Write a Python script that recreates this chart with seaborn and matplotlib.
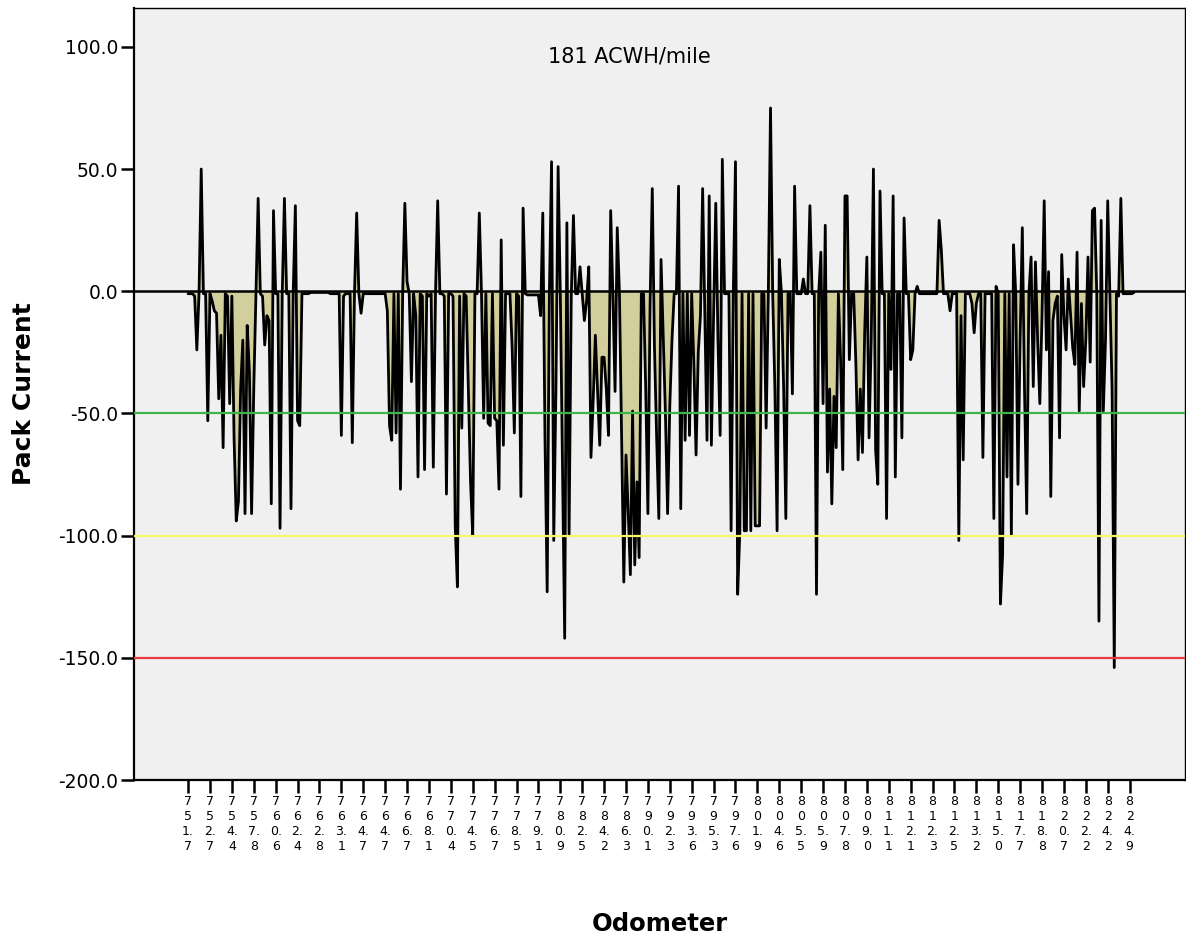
import numpy as np
import pandas as pd
import matplotlib
matplotlib.use("Agg")
import matplotlib.pyplot as plt
import seaborn as sns

# ---- data -------------------------------------------------------------
odometer_labels = [
    "751.7", "752.7", "754.4", "757.8", "760.6", "762.4", "762.8", "763.1",
    "764.7", "764.7", "766.7", "768.1", "770.4", "774.5", "776.7", "778.5",
    "779.1", "780.9", "782.5", "784.2", "786.3", "790.1", "792.3", "793.6",
    "795.3", "797.6", "801.9", "804.6", "805.5", "805.9", "807.8", "809.0",
    "811.1", "812.1", "812.3", "812.5", "813.2", "815.0", "817.7", "818.8",
    "820.7", "822.2", "824.2", "824.9",
]

pack_current = [
    -1, -1, -1, -2, -24, -1, 50, -1, -1, -53,
    -1, -4, -8, -9, -44, -18, -64, -1, -2, -46,
    -2, -60, -94, -86, -40, -20, -91, -14, -33, -91,
    -40, -1, 38, -1, -2, -22, -10, -12, -87, 33,
    -1, -1, -97, -1, 38, -1, -1, -89, -1, 35,
    -53, -55, -1, -1, -1, -1, -0.5, -0.5, -0.5, -0.5,
    -0.5, -0.5, -0.5, -0.5, -0.5, -1, -1, -1, -1, -1,
    -59, -2, -1, -1, -1, -62, -1, 32, -1, -9,
    -1, -1, -1, -1, -1, -1, -1, -1, -1, -1,
    -1, -8, -55, -61, -1, -58, -1, -81, -1, 36,
    4, -1, -37, -1, -10, -76, -1, -2, -73, -1,
    -2, -1, -72, -1, 37, -1, -1, -2, -83, -1,
    -1, -2, -96, -121, -2, -56, -1, -2, -40, -78,
    -100, -1, -1, 32, -1, -52, -1, -54, -55, -1,
    -52, -53, -81, 21, -63, -1, -1, -1, -23, -58,
    -1, -2, -84, 34, -1, -1.5, -1.5, -1.5, -1.5, -1.5,
    -1.5, -10, 32, -60, -123, -1, 53, -102, -40, 51,
    -1, -70, -142, 28, -100, -2, 31, -1, -1, 10,
    -1, -12, -4, 10, -68, -45, -18, -40, -63, -27,
    -27, -40, -59, 33, -1, -41, 26, -1, -60, -119,
    -67, -90, -116, -49, -112, -78, -109, -1, -1, -40,
    -91, -5, 42, -23, -60, -93, 13, -19, -50, -91,
    -47, -20, -1, -1, 43, -89, -1, -61, -1, -59,
    -1, -30, -67, -25, -10, 42, -10, -61, 39, -63,
    -10, 36, -20, -59, 54, -1, -1, -1, -98, -1,
    53, -124, -98, -1, -98, -98, -1, -98, -1, -96,
    -96, -96, -1, -1, -56, -1, 75, -1, -40, -98,
    13, -1, -40, -93, -1, -1, -42, 43, -1, -1,
    -1, 5, -1, -1, 35, -1, -1, -124, -1, 16,
    -46, 27, -74, -40, -87, -43, -64, -1, -28, -73,
    39, 39, -28, -1, -1, -30, -69, -40, -66, -17,
    14, -60, -20, 50, -65, -79, 41, -1, -1, -93,
    -1, -32, 39, -76, -1, -1, -60, 30, -1, -1,
    -28, -24, -1, 2, -1, -1, -1, -1, -1, -1,
    -1, -1, -1, 29, 17, -1, -1, -1, -8, -1,
    -1, -1, -102, -10, -69, -1, -1, -1, -5, -17,
    -5, -1, -1, -68, -1, -1, -1, -1, -93, 2,
    -1, -128, -108, -1, -76, -1, -100, 19, -1, -79,
    -20, 26, -40, -91, -1, 14, -39, 12, -20, -46,
    -10, 37, -24, 8, -84, -12, -5, -2, -60, 15,
    -10, -24, 5, -9, -23, -30, 16, -49, -5, -39,
    -20, 14, -29, 33, 34, -1, -135, 29, -49, -20,
    37, -1, -40, -154, -1, -2, 38, -1, -1, -1,
    -1, -1, -0.5,
]

ref_values = [0, -50, -100, -150]
ref_colors = ["#000000", "#3DB54A", "#F7F76A", "#E8393E"]
y_ticks = [-200, -150, -100, -50, 0, 50, 100]
title_text = "181 ACWH/mile"

# ---- plot ---------------------------------------------------------------
df = pd.DataFrame({"idx": np.arange(len(pack_current)), "current": pack_current})

sns.set_theme(style="ticks")
plt.rcParams["font.family"] = ["DejaVu Sans"]
plt.rcParams["text.color"] = "black"
plt.rcParams["axes.labelcolor"] = "black"
plt.rcParams["xtick.color"] = "black"
plt.rcParams["ytick.color"] = "black"

W, H = 1186, 941
fig = plt.figure(figsize=(W / 100, H / 100), dpi=100)
fig.patch.set_facecolor("white")
ax = fig.add_axes([134 / W, 1 - 780 / H, (1185 - 134) / W, (780 - 8) / H])
ax.set_facecolor("#F0F0F0")

ax.fill_between(df["idx"], 0, df["current"], color="#D3CF9C", lw=0, zorder=2)
sns.lineplot(data=df, x="idx", y="current", color="black", lw=2.0, ax=ax,
             zorder=4, sort=False)
for v, c in zip(ref_values, ref_colors):
    ax.axhline(v, color=c, lw=1.8 if v == 0 else 1.6, zorder=5 if v != 0 else 3)

ax.set_xlim(-24.7, 455.3)
ax.set_ylim(-200, 115.9)

tick_pos = np.arange(len(odometer_labels)) * 10


def stack(s):
    out = []
    for ch in s:
        if ch == "." and out:
            out[-1] += "."
        else:
            out.append(ch)
    return "\n".join(out)


ax.set_xticks(tick_pos)
ax.set_xticklabels([stack(s) for s in odometer_labels], fontsize=9,
                   linespacing=1.2)
ax.set_yticks(y_ticks)
ax.set_yticklabels([f"{v:.1f}" for v in y_ticks], fontsize=13.5)
ax.tick_params(axis="y", length=9.5, width=1.8, pad=2, colors="black")
ax.tick_params(axis="x", length=9, width=1.8, pad=2, colors="black")

for side in ["left", "bottom", "top", "right"]:
    ax.spines[side].set_color("black")
    ax.spines[side].set_linewidth(1.6 if side in ("left", "bottom") else 1.0)

ax.set_xlabel("Odometer", fontsize=17.5, fontweight="bold", color="black")
ax.set_ylabel("Pack Current", fontsize=18, fontweight="bold", color="black")
ax.xaxis.set_label_coords(0.5, (780 - 912) / 772)
ax.yaxis.set_label_coords((36 - 134) / 1051, 0.5)

ax.text((629 - 134) / 1051, (780 - 56) / 772, title_text, transform=ax.transAxes,
        ha="center", va="center", fontsize=15, color="black", zorder=6)

fig.savefig("out.png", dpi=100)
